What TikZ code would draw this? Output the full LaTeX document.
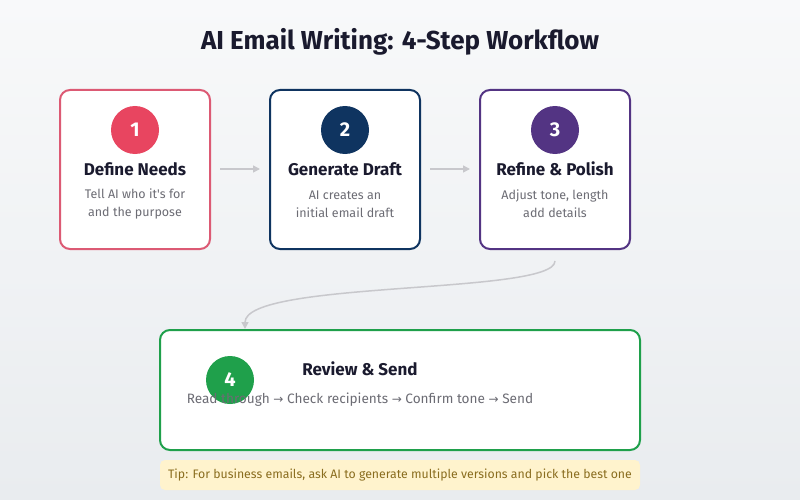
\documentclass[tikz,border=0pt]{standalone}
\usepackage{fontspec}
\setmainfont{Fira Sans}
\newfontfamily\symf{DejaVu Sans}
\usetikzlibrary{arrows.meta}
\definecolor{bgtop}{HTML}{F8F9FA}
\definecolor{bgbot}{HTML}{E9ECEF}
\definecolor{ink}{HTML}{1A1A2E}
\definecolor{desc}{HTML}{6C6C74}
\definecolor{cred}{HTML}{E84560}
\definecolor{bred}{HTML}{DC5A74}
\definecolor{cnavy}{HTML}{0F3460}
\definecolor{cpurple}{HTML}{533483}
\definecolor{cgreen}{HTML}{1FA04B}
\definecolor{conn}{HTML}{C8C8CC}
\definecolor{tipbg}{HTML}{FFF3CD}
\definecolor{tiptx}{HTML}{8A6D1F}
\newcommand\rarr{{\symf\fontsize{12}{14}\selectfont →}}
\tikzset{
  x=1pt, y=-1pt,
  card/.style={draw=#1, line width=2pt, fill=white, rounded corners=10pt},
  badge/.style={circle, fill=#1, minimum size=48pt, inner sep=0pt, text=white, font=\fontsize{20}{22}\selectfont\bfseries},
  ttl/.style={text=ink, font=\fontsize{17}{19}\selectfont\bfseries, inner sep=0pt},
  dsc/.style={text=desc, font=\fontsize{12.5}{18}\selectfont, align=center, inner sep=0pt},
  flow/.style={draw=conn, line width=1.5pt, -{Triangle[length=7pt,width=7pt]}}
}
\begin{document}
\begin{tikzpicture}
\useasboundingbox (0,0) rectangle (800,500);
\shade[top color=bgtop, bottom color=bgbot] (0,0) rectangle (800,500);
\node[text=ink, font=\fontsize{26}{30}\selectfont\bfseries] (title) at (400,42) {AI Email Writing: 4-Step Workflow};
% cards
\draw[card=bred] (60,90) rectangle (210,249);
\draw[card=cnavy] (270,90) rectangle (420,249);
\draw[card=cpurple] (480,90) rectangle (630,249);
\node (c1) at (135,170) [minimum width=150pt, minimum height=159pt] {};
\node (c2) at (345,170) [minimum width=150pt, minimum height=159pt] {};
\node (c3) at (555,170) [minimum width=150pt, minimum height=159pt] {};
\node[badge=cred] (b1) at (135,130) {1};
\node[badge=cnavy] (b2) at (345,130) {2};
\node[badge=cpurple] (b3) at (555,130) {3};
\node[ttl] (t1) at (135,169) {Define Needs};
\node[ttl] (t2) at (345,169) {Generate Draft};
\node[ttl] (t3) at (555,169) {Refine \& Polish};
\node[dsc] (d1) at (135,204) {Tell AI who it\textquotesingle s for\\and the purpose};
\node[dsc] (d2) at (345,204) {AI creates an\\initial email draft};
\node[dsc] (d3) at (555,204) {Adjust tone, length\\add details};
% arrows
\coordinate (a1s) at (220,169); \coordinate (a1e) at (260,169);
\coordinate (a2s) at (430,169); \coordinate (a2e) at (470,169);
\draw[flow] (a1s) -- (a1e);
\draw[flow] (a2s) -- (a2e);
% card 4
\draw[card=cgreen] (160,330) rectangle (640,450);
\node (c4) at (400,390) [minimum width=480pt, minimum height=120pt] {};
\node[badge=cgreen] (b4) at (230,380) {4};
\node[ttl] (t4) at (360,369) {Review \& Send};
\node[dsc, font=\fontsize{13.6}{18}\selectfont] (d4) at (360,400) {Read through \rarr{} Check recipients \rarr{} Confirm tone \rarr{} Send};
% curve
\coordinate (cs) at (555,261);
\coordinate (ce) at (245,329);
\draw[flow] (cs) .. controls (555,295) and (245,280) .. (ce);
% tip
\node[fill=tipbg, rounded corners=5pt, minimum width=480pt, minimum height=30pt, inner sep=0pt, text=tiptx, font=\fontsize{12.3}{15}\selectfont] (tip) at (400,475) {Tip: For business emails, ask AI to generate multiple versions and pick the best one};
\end{tikzpicture}
\end{document}
